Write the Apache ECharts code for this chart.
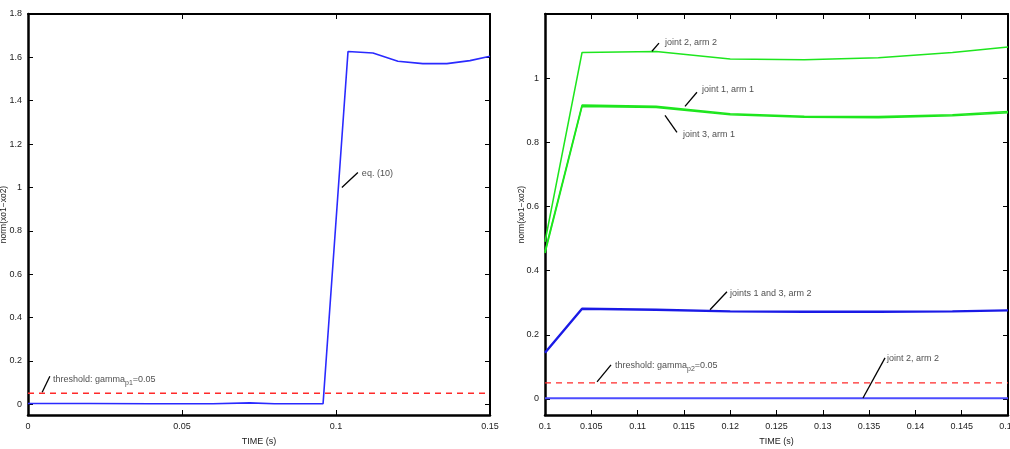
<!DOCTYPE html>
<html>
<head>
<meta charset="utf-8">
<script src="https://cdn.jsdelivr.net/npm/echarts@6/dist/echarts.min.js"></script>
<style>
  html, body { margin: 0; padding: 0; background: #fff; }
  #chart { width: 1010px; height: 449px; }
</style>
</head>
<body>
<div id="chart"></div>
<script>
// 左图数据
const leftTime = [0, 0.02, 0.04, 0.06, 0.072, 0.08, 0.0958, 0.1039, 0.112, 0.1201, 0.1282, 0.136, 0.1435, 0.15];
const leftNorm = [0.003, 0.003, 0.002, 0.002, 0.006, 0.002, 0.002, 1.627, 1.62, 1.582, 1.571, 1.571, 1.585, 1.605];
const leftTimeTicks = [0, 0.05, 0.1, 0.15];
const leftNormTicks = [0, 0.2, 0.4, 0.6, 0.8, 1, 1.2, 1.4, 1.6, 1.8];

// 右图数据
const rightTime = [0.1, 0.104, 0.112, 0.12, 0.128, 0.136, 0.144, 0.15];
const joint2Arm2Upper = [0.49, 1.08, 1.083, 1.06, 1.057, 1.064, 1.08, 1.097];
const joint1Arm1 = [0.46, 0.916, 0.912, 0.889, 0.881, 0.88, 0.886, 0.896];
const joint3Arm1 = [0.455, 0.912, 0.909, 0.886, 0.878, 0.877, 0.883, 0.892];
const joints13Arm2 = [0.144, 0.281, 0.278, 0.273, 0.272, 0.272, 0.273, 0.276];
const joint2Arm2Lower = [0.002, 0.002, 0.002, 0.002, 0.002, 0.002, 0.002, 0.002];
const rightTimeTicks = [0.1, 0.105, 0.11, 0.115, 0.12, 0.125, 0.13, 0.135, 0.14, 0.145, 0.15];
const rightNormTicks = [0, 0.2, 0.4, 0.6, 0.8, 1];

const threshold = 0.05;

// 注释 (数据坐标)
const leftNotes = [
  { text: 'threshold: gamma{s|p1}=0.05', from: [0.0046, 0.055], to: [0.0071, 0.129], at: [0.0081, 0.115] },
  { text: 'eq. (10)', from: [0.1019, 1.0], to: [0.1071, 1.069], at: [0.1084, 1.065] }
];
const rightNotes = [
  { text: 'joint 2, arm 2', from: [0.11155, 1.084], to: [0.11231, 1.109], at: [0.11296, 1.1125] },
  { text: 'joint 1, arm 1', from: [0.11512, 0.912], to: [0.11641, 0.956], at: [0.11695, 0.966] },
  { text: 'joint 3, arm 1', from: [0.11296, 0.884], to: [0.11425, 0.831], at: [0.1149, 0.825] },
  { text: 'joints 1 and 3, arm 2', from: [0.11782, 0.278], to: [0.11965, 0.334], at: [0.11998, 0.328] },
  { text: 'threshold: gamma{s|p2}=0.05', from: [0.10562, 0.053], to: [0.10713, 0.106], at: [0.10756, 0.103] },
  { text: 'joint 2, arm 2', from: [0.13434, 0.003], to: [0.13672, 0.128], at: [0.13693, 0.125] }
];

(function(){
  const myChart = echarts.init(document.getElementById('chart'));
  const FONT = 'Liberation Sans, Arial, sans-serif';
  const zip = (xs, ys) => xs.map((x, i) => [x, ys[i]]);

  function xAxes(gridIndex, min, max, ticks) {
    return [
      {
        gridIndex, type: 'value', position: 'bottom', min, max,
        name: 'TIME (s)', nameLocation: 'middle', nameGap: 22, nameMoveOverlap: false,
        nameTextStyle: { fontFamily: FONT, fontSize: 9, color: '#222' },
        axisLine: { onZero: false, lineStyle: { color: '#000', width: 2.5 } },
        axisTick: { inside: true, length: 5, customValues: ticks, lineStyle: { color: '#000' } },
        axisLabel: { customValues: ticks, margin: 7, fontFamily: FONT, fontSize: 9, color: '#222',
                     showMinLabel: true, showMaxLabel: true, hideOverlap: false },
        splitLine: { show: false }
      },
      {
        gridIndex, type: 'value', position: 'top', min, max,
        axisLine: { onZero: false, lineStyle: { color: '#000', width: 2 } },
        axisTick: { inside: true, length: 5, customValues: ticks, lineStyle: { color: '#000' } },
        axisLabel: { show: false },
        splitLine: { show: false }
      }
    ];
  }

  function yAxes(gridIndex, min, max, ticks, nameGap) {
    return [
      {
        gridIndex, type: 'value', position: 'left', min, max,
        name: 'norm(xo1\u2212xo2)', nameLocation: 'middle', nameGap, nameRotate: 90,
        nameMoveOverlap: false,
        nameTextStyle: { fontFamily: FONT, fontSize: 8.5, color: '#222' },
        axisLine: { onZero: false, lineStyle: { color: '#000', width: 2.5 } },
        axisTick: { inside: true, length: 5, customValues: ticks, lineStyle: { color: '#000' } },
        axisLabel: { customValues: ticks, margin: 6, fontFamily: FONT, fontSize: 9, color: '#222' },
        splitLine: { show: false }
      },
      {
        gridIndex, type: 'value', position: 'right', min, max,
        axisLine: { onZero: false, lineStyle: { color: '#000', width: 2 } },
        axisTick: { inside: true, length: 5, customValues: ticks, lineStyle: { color: '#000' } },
        axisLabel: { show: false },
        splitLine: { show: false }
      }
    ];
  }

  function line(xIdx, yIdx, data, color, width, type) {
    return {
      type: 'line', xAxisIndex: xIdx, yAxisIndex: yIdx, data,
      showSymbol: false, symbol: 'none', animation: false, silent: true,
      lineStyle: { color, width, type: type || 'solid' }
    };
  }

  // 注释: 文本 + 引线
  function notes(xIdx, yIdx, list) {
    return {
      type: 'scatter', xAxisIndex: xIdx, yAxisIndex: yIdx,
      symbolSize: 0, itemStyle: { color: 'rgba(0,0,0,0)' }, silent: true, animation: false,
      data: list.map(n => ({ value: n.at, label: { formatter: n.text } })),
      label: {
        show: true, position: 'right', distance: 0,
        fontFamily: FONT, fontSize: 9, color: '#222',
        rich: { s: { fontFamily: FONT, fontSize: 7, color: '#222', padding: [7, 0, 0, 0] } }
      },
      markLine: {
        silent: true, animation: false, symbol: ['none', 'none'],
        label: { show: false },
        lineStyle: { color: '#000', width: 1.3, type: 'solid' },
        data: list.map(n => [{ coord: n.from }, { coord: n.to }])
      }
    };
  }

  const option = {
    animation: false,
    grid: [
      { left: 28, top: 14, width: 462, height: 401, outerBoundsMode: 'none', containLabel: false },
      { left: 545, top: 14, width: 463, height: 401, outerBoundsMode: 'none', containLabel: false }
    ],
    xAxis: [
      ...xAxes(0, 0, 0.15, leftTimeTicks),
      ...xAxes(1, 0.1, 0.15, rightTimeTicks)
    ],
    yAxis: [
      ...yAxes(0, -0.05, 1.8, leftNormTicks, 20),
      ...yAxes(1, -0.05, 1.2, rightNormTicks, 19)
    ],
    series: [
      line(0, 0, zip([0, 0.15], [threshold, threshold]), '#ff2a2a', 1.4, [6, 5]),
      line(0, 0, zip(leftTime, leftNorm), '#2a2aff', 1.6),
      notes(0, 0, leftNotes),

      line(2, 2, zip([0.1, 0.15], [threshold, threshold]), '#ff2a2a', 1.4, [6, 5]),
      line(2, 2, zip(rightTime, joint2Arm2Lower), '#4c4cff', 2),
      line(2, 2, zip(rightTime, joints13Arm2), '#1a1ae6', 2.4),
      line(2, 2, zip(rightTime, joint2Arm2Upper), '#1ee61e', 1.5),
      line(2, 2, zip(rightTime, joint1Arm1), '#1ee61e', 1.6),
      line(2, 2, zip(rightTime, joint3Arm1), '#1ee61e', 1.6),
      notes(2, 2, rightNotes)
    ]
  };

  myChart.setOption(option);

  window.addEventListener('resize', function() {
    myChart.resize();
  });
})();
</script>
</body>
</html>
